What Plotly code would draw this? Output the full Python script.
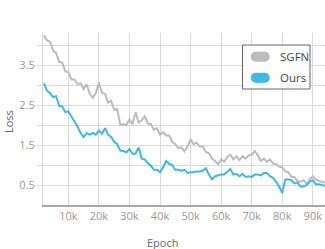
import plotly.graph_objects as go

epoch_k = list(range(2, 95))
sgfn = [4.24, 4.12, 4.08, 3.86, 3.8, 3.58, 3.56, 3.34, 3.32, 3.14,
        3.14, 3.02, 3.04, 2.9, 3.02, 2.78, 2.68, 2.8, 3.06, 2.8,
        2.78, 2.56, 2.6, 2.38, 2.4, 2.0, 2.02, 2.0, 2.14, 2.02,
        2.32, 2.06, 2.12, 2.22, 2.04, 2.02, 1.88, 1.92, 1.76, 1.82,
        1.74, 1.74, 1.58, 1.52, 1.42, 1.44, 1.34, 1.46, 1.64, 1.52,
        1.56, 1.46, 1.46, 1.32, 1.3, 1.16, 1.1, 1.02, 1.14, 1.08,
        1.2, 1.26, 1.14, 1.22, 1.12, 1.22, 1.16, 1.24, 1.26, 1.35,
        1.24, 1.1, 1.16, 1.08, 1.14, 1.04, 1.02, 0.96, 0.94, 0.84,
        0.82, 0.7, 0.7, 0.6, 0.58, 0.62, 0.52, 0.64, 0.72, 0.64,
        0.6, 0.58, 0.56]
ours = [3.04, 2.86, 2.8, 2.7, 2.72, 2.48, 2.46, 2.32, 2.34, 2.22,
        2.1, 1.96, 1.8, 1.7, 1.8, 1.76, 1.8, 1.76, 1.86, 1.78,
        1.92, 1.76, 1.7, 1.58, 1.52, 1.36, 1.35, 1.32, 1.4, 1.28,
        1.28, 1.44, 1.16, 1.14, 1.04, 0.98, 0.88, 0.88, 0.82, 0.94,
        1.1, 1.03, 1.0, 0.88, 0.88, 0.86, 0.88, 0.8, 0.82, 0.82,
        0.84, 0.84, 0.86, 0.92, 0.76, 0.64, 0.72, 0.74, 0.76, 0.76,
        0.84, 0.9, 0.76, 0.78, 0.72, 0.78, 0.7, 0.72, 0.7, 0.76,
        0.76, 0.74, 0.8, 0.8, 0.72, 0.68, 0.58, 0.46, 0.3, 0.64,
        0.64, 0.62, 0.54, 0.56, 0.46, 0.46, 0.5, 0.58, 0.62, 0.52,
        0.52, 0.5, 0.48]
series_names = ["SGFN", "Ours"]
series_colors = ["#bcbcbc", "#3cb9ea"]
x_tick_vals = [10000, 20000, 30000, 40000, 50000, 60000, 70000, 80000, 90000]
x_tick_text = ["10k", "20k", "30k", "40k", "50k", "60k", "70k", "80k", "90k"]
y_tick_vals = [0.5, 1.0, 1.5, 2.0, 2.5, 3.0, 3.5, 4.0]
y_tick_text = ["0.5", "", "1.5", "", "2.5", "", "3.5", ""]

epochs = [k * 1000 for k in epoch_k]

fig = go.Figure()
for name, vals, col in zip(series_names, [sgfn, ours], series_colors):
    fig.add_trace(go.Scatter(x=epochs, y=vals, mode="lines", name=name,
                             line=dict(color=col, width=2), showlegend=False))

FONT = "Open Sans"
fig.update_layout(
    width=325, height=249,
    margin=dict(l=43, r=0, t=33, b=44),
    paper_bgcolor="white", plot_bgcolor="white",
    font=dict(family=FONT, color="#999999", size=11),
    xaxis=dict(range=[1700, 94000], tickvals=x_tick_vals, ticktext=x_tick_text,
               showgrid=True, gridcolor="#dadada", gridwidth=1,
               showline=True, linecolor="#a8a8a8", linewidth=2,
               ticks="", zeroline=False, tickfont=dict(size=11, color="#999999")),
    yaxis=dict(range=[0, 4.3], tickvals=y_tick_vals, ticktext=y_tick_text,
               showgrid=True, gridcolor="#dadada", gridwidth=1,
               showline=True, linecolor="#dadada", linewidth=1,
               ticks="outside", ticklen=5, tickcolor="#dadada",
               zeroline=False, tickfont=dict(size=11, color="#999999")),
)

# axis titles
fig.add_annotation(text="Epoch", xref="paper", yref="paper", x=(162.5 - 43) / 282,
                   y=-(242 - 205) / 172, xanchor="center", yanchor="middle",
                   showarrow=False, font=dict(family=FONT, size=11, color="#666666"))
fig.add_annotation(text="Loss", xref="paper", yref="paper", x=-(43 - 8) / 282,
                   y=(205 - 122) / 172, xanchor="center", yanchor="middle",
                   textangle=-90, showarrow=False,
                   font=dict(family=FONT, size=11, color="#666666"))

# legend
def px(xp):
    return (xp - 43) / 282

def py(yp):
    return (205 - yp) / 172

fig.add_shape(type="rect", xref="paper", yref="paper", xsizemode="pixel", ysizemode="pixel",
              xanchor=px(276.25), yanchor=py(67), x0=-33.75, x1=33.75, y0=-22, y1=22,
              fillcolor="white", line=dict(color="#666666", width=1), layer="above")
for name, col, cy in zip(series_names, series_colors, [56.7, 77.8]):
    fig.add_shape(type="rect", xref="paper", yref="paper", xsizemode="pixel", ysizemode="pixel",
                  xanchor=px(260.3), yanchor=py(cy), x0=-4.5, x1=4.5, y0=-5, y1=5,
                  fillcolor=col, line=dict(width=0), layer="above")
    for dx in (-4.5, 4.5):
        fig.add_shape(type="circle", xref="paper", yref="paper", xsizemode="pixel", ysizemode="pixel",
                      xanchor=px(260.3 + dx), yanchor=py(cy), x0=-5, x1=5, y0=-5, y1=5,
                      fillcolor=col, line=dict(width=0), layer="above")
    fig.add_annotation(text=name, xref="paper", yref="paper", x=px(278), y=py(cy),
                       xanchor="left", yanchor="middle", showarrow=False,
                       font=dict(family=FONT, size=11.5, color="#444444"))

fig.write_html("out.html", config={"displayModeBar": False},
               post_script="document.body.style.margin='0';")
